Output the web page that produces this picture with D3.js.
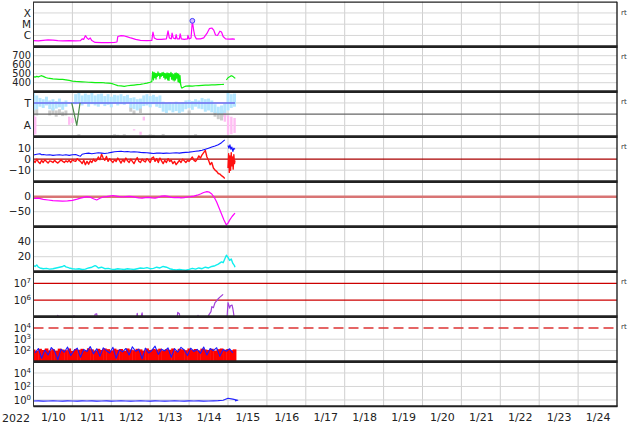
<!DOCTYPE html>
<html><head><meta charset="utf-8">
<script src="https://cdn.jsdelivr.net/npm/d3@7"></script>
<style>body{margin:0;background:#fff}svg text{font-family:"DejaVu Sans",sans-serif}</style>
</head><body><svg id="c" width="634" height="424"></svg>
<script>
// ---------- DATA (time in hours since 2022-01-10 00:00 UTC) ----------
const dayLabels = ["1/10","1/11","1/12","1/13","1/14","1/15","1/16","1/17","1/18","1/19","1/20","1/21","1/22","1/23","1/24"];
const yearLabel = "2022";

// Panel 1: X-ray flux
const xrayT = [0,3,6,9,12,15,18,22,26,29,30,31,32,33,34,35,36,38,42,46,50,51.5,52,54,56,58,60,63,66,70,73,73.7,74.5,76,79,82,83,83.8,85,85.5,86.2,87.5,88,88.6,90,90.5,91.2,93,95,95.3,96,97.2,98,98.8,99.5,100.5,103,105,107,108.5,110,111.2,112.3,113.5,115,116,117,118.5,121,123,124.3];
const xrayF = [3.5e-7,3.3e-7,3.6e-7,4.0e-7,3.8e-7,3.4e-7,3.3e-7,3.5e-7,3.3e-7,3.4e-7,5e-7,4.5e-7,9.5e-7,6e-7,4.5e-7,6e-7,3.5e-7,2.4e-7,2.3e-7,2.3e-7,2.4e-7,2.6e-7,8e-7,9.5e-7,9e-7,7.5e-7,6e-7,4.5e-7,3.7e-7,3.5e-7,3.6e-7,2.0e-6,6e-7,4.5e-7,4.5e-7,5e-7,2.6e-6,6e-7,5e-7,1.6e-6,6e-7,5e-7,1.2e-6,5e-7,5e-7,1.4e-6,5e-7,4.5e-7,5e-7,1.0e-6,5e-7,6e-7,2.0e-5,3e-6,9e-7,5e-7,5e-7,6e-7,1.5e-6,4e-6,4.6e-6,3e-6,1.1e-6,1.0e-6,2.4e-6,2e-6,8e-7,5e-7,4.8e-7,5e-7,4.6e-7];
const flareT = [98];
const flareF = [2.0e-5];
const xrayClasses = ["X","M","C"];
const xrayClassFlux = [1e-4,1e-5,1e-6];

// Panel 2: solar wind speed
const speedT = [0,1,2,3,4,5,6,7,8,9,10,11,12,14,16,18,20,22,24,26,28,30,32,34,36,38,40,42,44,46,48,50,52,54,56,58,60,62,64,66,68,70,72,73,
73.5,74,74.4,74.8,75.2,75.6,76,76.4,76.8,77.2,77.6,78,78.4,78.8,79.2,79.6,80,80.4,80.8,81.2,81.6,82,82.4,82.8,83.2,83.6,84,84.4,84.8,85.2,85.6,86,86.4,86.8,87.2,87.6,88,88.4,88.8,89.2,89.6,90,90.4,90.8,91.2,91.6,
92,93,94,96,98,100,102,104,106,108,110,112,114,116,117.5,118,119,120,121,122,123,124,124.5];
const speedV = [467,462,470,465,472,478,470,462,455,450,448,445,442,440,438,436,432,425,418,414,412,410,408,405,403,401,400,402,398,395,392,380,368,365,360,366,370,374,378,382,388,395,405,412,
520,430,515,455,505,440,500,470,520,480,505,445,500,470,510,480,515,460,505,440,500,450,510,430,505,425,500,470,515,440,500,430,490,420,505,430,510,450,500,410,495,400,480,380,350,340,
345,355,362,365,362,366,368,370,372,373,375,376,378,380,382,null,430,455,465,478,470,455,448];
const speedTicks = [700,600,500,400];

// Panel 3: IMF angle (light blue / grey / pink clouds, reference lines)
const phiBlueT  = [0,2,4,6,8,10,12,14,16,18,20,22,24,26,28,30,32,34,36,38,40,42,44,46,48,50,52,54,56,58,60,62,64,66,68,70,72,74,76,78,80,82,84,86,88,90,92,94,96,98,100,102,104,106,108,110,112,114,116,118,120,122,124];
const phiBlueLo = [10,30,50,60,40,70,60,75,55,80,70,85,85,20,10,30,15,25,10,30,20,15,35,20,40,25,30,20,35,25,50,45,60,55,30,20,35,25,40,30,80,90,85,95,80,90,85,70,65,75,60,70,50,60,55,70,100,120,110,95,10,20,15];
const phiBlueHi = [150,140,120,130,110,140,150,135,125,145,120,95,95,100,90,110,95,120,100,110,120,100,115,105,125,95,110,100,105,90,130,140,150,135,115,110,125,100,120,130,160,170,150,165,155,170,160,140,130,145,120,135,140,160,150,165,170,185,180,175,150,130,120];
const phiGrey = [[0,130,200],[2,140,190],[10,150,190],[12,130,180],[14,150,200],[16,140,185],[18,160,195],[20,150,190],[28,340,352],[50,340,350],[52,345,352],[56,340,350],[60,120,160],[62,150,180],[66,130,170],[72,340,350],[74,345,352],[80,338,350],[96,150,175],[100,340,350],[112,160,200],[114,170,220],[116,180,230],[118,150,200]];
const phiPink = [[0,190,350],[1,200,340],[22,200,265],[24,210,250],[62,300,310],[66,320,345],[68,200,230],[118,170,240],[120,190,345],[122,200,340],[124,210,330]];
const phiGreenT = [23.6,26.7,28.7];
const phiGreenV = [90,270,90];
const phiLabels = [["T",90],["A",270]];

// Panel 4: Bt and Bz (nT)
const btT = [0,2,4,5,6,8,10,12,14,16,18,20,22,24,26,28,29,30,32,34,36,38,40,42,44,46,48,50,52,54,56,58,60,62,64,66,68,70,72,74,76,78,80,82,84,86,88,90,92,94,96,98,100,102,104,106,108,110,112,114,116,118,119,120,120.6,121.2,121.8,122.4,123,123.6,124.3];
const btV = [3.8,4.5,5,4,4.2,3.8,4,3.5,3.8,4,3.6,4,3.5,4,4.3,3.2,2.8,4.5,5.2,5.5,5,5.4,5.8,5.5,5.2,5.6,6.2,6.8,7,7.2,6.8,7,6.6,6.8,6.5,6.2,6,5.8,5.5,5.2,5.5,5.6,5.3,5.5,5.4,5.6,5.8,5.5,6,6.2,6.4,6.8,7.2,7.6,8.2,9,10,11,12,13.2,15,17.5,null,12.5,10,13,9,11,7,10,9];
const bzT = [0,1,2,3,4,5,6,7,8,9,10,11,12,13,14,15,16,17,18,19,20,21,22,23,24,25,26,27,28,29,30,31,32,33,34,35,36,37,38,39,40,41,42,43,44,45,46,47,48,49,50,51,52,53,54,55,56,57,58,59,60,61,62,63,64,65,66,67,68,69,70,71,72,73,74,75,76,77,78,79,80,81,82,83,84,85,86,87,88,89,90,91,92,93,94,95,96,97,98,99,100,101,102,103,104,105,106,107,108,109,110,111,112,113,114,115,116,117,118,119,120,120.4,120.8,121.2,121.6,122,122.4,122.8,123.2,123.6,124,124.3];
const bzV = [-1,-3,0,-2.5,-4,-1,-3,-0.5,-2,-3.5,-1.5,-2,-3,-1,-2.5,-3.5,-2,-0.5,-2,-3,-1.5,-2.5,-1,-3,-0.5,-1.5,-2,0.5,-1,-2,-4,-1,-5,-2,-4.5,-1.5,-3,0,-2,-1,2,-0.5,4.5,1,-1,2.5,-2,0.5,-1.5,-3,-0.5,-2,1,-1,-3.5,-0.5,-2.5,1,-1.5,-3,0,-2,-4,-1,1.5,-2,-3,0,-1.5,-2.5,0.5,-1,-3,1,2,-2,0.5,-3,1,-1.5,-4,-1,-3,0.5,-2,-1,-4,-2,-5,-3,-1,-3,0,-1.5,-3,-1,-2,0,2,-1,-2,0,3,1,4,6,8,2,-1,-5,-3,-8,-10,-11,-13,-13.5,-15,-16,-17.5,null,-8,5,-12,3,-10,6,-6,2,-9,4,-4,-1];
const bTicks = [10,0,-10];

// Panel 5: Dst (nT)
const dstT = [0,3,6,9,12,15,18,21,24,27,29,31,33,35,37,39,41,43,45,47,49,51,53,55,57,59,61,63,65,67,69,71,73,75,77,79,81,83,85,87,89,91,93,95,97,99,101,103,105,107,108.5,110,111.5,113,114.5,116,117.5,119,120,121,122.5,124.3];
const dstV = [-6,-5,-9,-11,-13,-14,-15,-14,-12,-8,-5,-2,0,-2,-7,-11,-5,-1,0,2,4,2,0,-1,0,1,0,-2,-4,-5,-3,-2,-4,-5,-2,2,3,1,-2,-3,-2,-4,-3,-1,0,2,5,9,14,17,15,9,-2,-18,-38,-58,-78,-94,-88,-78,-66,-55];
const dstTicks = [0,-50];

// Panel 6: density
const denT = [0,1,2,3,4,6,8,10,12,14,16,18,19,20,22,24,26,28,30,32,34,36,38,39,40,42,44,46,48,50,52,54,56,58,60,62,64,66,68,70,72,74,76,78,80,82,84,86,88,90,92,94,96,98,100,102,104,106,108,110,112,114,116,117,118,119,120,121,122,123,124,124.3];
const denV = [8,7,9,6,5,4,4.5,3.5,4,5,6,7,8,6.5,5,4,3.5,4,3,3.5,5,6,8,7,5,6,4,4.5,3.5,3,4,3.5,3,4,3.5,3,4,5,4.5,5.5,4,4.5,6,5,7,6,4,3,2.5,3,2.5,2,3,4.5,3.5,5,4,6,5,7,8,10,13,12,17,22,19,15,17,11,8,6];
const denTicks = [40,20];

// Panel 7: electron flux (purple)
const eT = [0,14,15,16,24,25,26,37,38,39,40,63,64,65,67,68,88,89,90,91,101,101.5,102,107.5,108,109.5,110,111,112,113,114,115,116,117,118,118.5,119.5,120,120.5,121,121.5,122.5,123,123.5,124];
const eV = [3e4,3e4,1.2e5,3e4,3e4,1.15e5,3e4,3e4,1.4e5,1.5e5,3e4,3e4,1.6e5,3e4,1.7e5,3e4,3e4,1.8e5,1.5e5,3e4,3e4,1.2e5,3e4,3e4,1.2e5,2e5,4e5,3.5e5,7e5,9e5,1.2e6,1.5e6,1.8e6,2.2e6,null,3e4,1.2e5,6.9e5,5e5,3.3e5,4.5e5,5e5,3e5,1.5e5,5e4];
const eRefs = [1e7,1e6];
const eTicks = [7,6];

// Panel 8: proton flux (red bars, blue line)
const p8RedStart = 0, p8Step = 2;
const p8Red = [120,90,140,110,150,100,130,95,145,120,105,150,90,135,115,140,100,155,125,95,140,110,150,130,100,145,115,135,90,150,120,105,140,125,95,150,110,135,120,145,100,130,115,150,95,140,125,105,150,115,135,100,145,120,110,140,95,130,150,115,135,105,125];
const p8Blue = [60,150,20,110,40,180,90,15,130,70,200,35,100,160,25,120,80,220,50,140,30,170,95,60,190,20,115,75,150,40,210,85,130,18,160,60,100,240,45,130,90,170,25,145,70,190,110,35,160,80,125,55,200,40,150,95,175,30,120,85,140,60];
const p8Ref = 1e4;
const p8Ticks = [4,3,2];

// Panel 9: (blue line)
const p9Step = 3;
const p9V = [0.7,0.72,0.68,0.7,0.75,0.7,0.68,0.72,0.7,0.69,0.73,0.7,0.71,0.68,0.7,0.72,0.69,0.7,0.74,0.7,0.68,0.7,0.72,0.7,0.69,0.71,0.7,0.68,0.7,0.72,0.7,0.69,0.73,0.7,0.71,0.68,0.7,0.75,0.8,0.9,1.8,1.3,0.9];
const p9Ticks = [4,2,0];

// ---------- LAYOUT ----------
const svg = d3.select("#c");
const X0 = 33.5, X1 = 617;
const PH = 45, TOP = 1.7, NP = 9;
const PT = i => TOP + PH*i, PB = i => TOP + PH*(i+1);
const x = d3.scaleLinear().domain([0, 360]).range([X0, X1]);

const y1 = d3.scaleLog().domain([1e-7,1e-3]).range([PB(0),PT(0)]);
const y2 = d3.scaleLinear().domain([300,800]).range([PB(1),PT(1)]);
const y3 = d3.scaleLinear().domain([0,360]).range([PT(2),PB(2)]);
const y4 = d3.scaleLinear().domain([-20.45,20.45]).range([PB(3),PT(3)]);
const y5 = d3.scaleLinear().domain([-100,50]).range([PB(4),PT(4)]);
const y6 = d3.scaleLinear().domain([0,60]).range([PB(5),PT(5)]);
const y7 = d3.scaleLog().domain([1e5,Math.pow(10,7.7)]).range([PB(6),PT(6)]);
const y8 = d3.scaleLog().domain([10,1e5]).range([PB(7),PT(7)]);
const y9 = d3.scaleLog().domain([0.1,Math.pow(10,5.67)]).range([PB(8),PT(8)]);

const defs = svg.append("defs");
for (let i=0;i<NP;i++){
  defs.append("clipPath").attr("id","cp"+i).append("rect")
    .attr("x",X0).attr("y",PT(i)).attr("width",X1-X0).attr("height",PH);
}

// vertical day grid
const grid = svg.append("g");
for (let d=1; d<15; d++){
  grid.append("line").attr("x1",x(d*24)).attr("x2",x(d*24)).attr("y1",PT(0)).attr("y2",PB(8))
    .attr("stroke","#cfcfcf").attr("stroke-width",1);
}
function hgrid(yv, color="#d6d6d6", w=1, dash=null){
  const l = grid.append("line").attr("x1",X0).attr("x2",X1).attr("y1",yv).attr("y2",yv)
    .attr("stroke",color).attr("stroke-width",w);
  if (dash) l.attr("stroke-dasharray",dash);
}
xrayClassFlux.forEach(f=>hgrid(y1(f)));
speedTicks.forEach(v=>hgrid(y2(v)));
hgrid(y3(90)); hgrid(y3(270));
hgrid(y4(10)); hgrid(y4(-10));
hgrid(y5(-50));
denTicks.forEach(v=>hgrid(y6(v)));
hgrid(y8(1e3)); hgrid(y8(1e2));
p9Ticks.forEach(p=>hgrid(y9(Math.pow(10,p))));

const zip = (t,v)=>t.map((h,i)=>[h,v[i]]);
function drawLine(i, data, ys, color, w){
  svg.append("path").attr("clip-path",`url(#cp${i})`)
    .attr("d", d3.line().defined(d=>d[1]!=null).x(d=>x(d[0])).y(d=>ys(d[1]))(data))
    .attr("fill","none").attr("stroke",color).attr("stroke-width",w).attr("stroke-linejoin","round");
}

// Panel 1
drawLine(0, zip(xrayT,xrayF), y1, "#ff00ff", 1.2);
svg.append("g").selectAll("circle").data(zip(flareT,flareF)).join("circle")
  .attr("cx",d=>x(d[0])).attr("cy",d=>y1(d[1])).attr("r",2.4)
  .attr("fill","#d8b8ff").attr("stroke","#4040ff").attr("stroke-width",1);

// Panel 2
drawLine(1, zip(speedT,speedV), y2, "#11ee11", 1.2);

// Panel 3
const g3 = svg.append("g").attr("clip-path","url(#cp2)");
g3.selectAll(".gy").data(phiGrey).join("rect")
  .attr("x",d=>x(d[0])-1.5).attr("width",3).attr("y",d=>y3(d[1])).attr("height",d=>y3(d[2])-y3(d[1]))
  .attr("fill","#cccccc");
g3.selectAll(".lb").data(zip(phiBlueT, phiBlueLo.map((lo,i)=>[lo,phiBlueHi[i]]))).join("rect")
  .attr("x",d=>x(d[0])-1.5).attr("width",3).attr("y",d=>y3(d[1][0])).attr("height",d=>y3(d[1][1])-y3(d[1][0]))
  .attr("fill","#b4e6ff");
g3.selectAll(".pk").data(phiPink).join("rect")
  .attr("x",d=>x(d[0])-1.1).attr("width",2.4).attr("y",d=>y3(d[1])).attr("height",d=>y3(d[2])-y3(d[1]))
  .attr("fill","#ffbdf3");
g3.append("line").attr("x1",x(0)).attr("x2",x(124.3)).attr("y1",y3(90)).attr("y2",y3(90))
  .attr("stroke","#6a6af0").attr("stroke-width",1.4);
g3.append("line").attr("x1",X0).attr("x2",X1).attr("y1",y3(180)).attr("y2",y3(180))
  .attr("stroke","#666").attr("stroke-width",1.2);
drawLine(2, zip(phiGreenT,phiGreenV), y3, "#4a8a4a", 1.2);

// Panel 4
svg.append("line").attr("x1",X0).attr("x2",X1).attr("y1",y4(0)).attr("y2",y4(0)).attr("stroke","#aa0000").attr("stroke-width",1.3);
drawLine(3, zip(bzT,bzV), y4, "#ff1010", 1.4);
drawLine(3, zip(btT,btV), y4, "#1010ff", 1.1);

// Panel 5
svg.append("line").attr("x1",X0).attr("x2",X1).attr("y1",y5(0)).attr("y2",y5(0)).attr("stroke","#d87474").attr("stroke-width",2.4);
drawLine(4, zip(dstT,dstV), y5, "#ff00ff", 1.2);

// Panel 6
drawLine(5, zip(denT,denV), y6, "#11eeee", 1.4);

// Panel 7
eRefs.forEach(v=>svg.append("line").attr("x1",X0).attr("x2",X1).attr("y1",y7(v)).attr("y2",y7(v)).attr("stroke","#cc0000").attr("stroke-width",1.2));
drawLine(6, zip(eT,eV), y7, "#a040d8", 1.2);

// Panel 8
svg.append("line").attr("x1",X0).attr("x2",X1).attr("y1",y8(p8Ref)).attr("y2",y8(p8Ref))
  .attr("stroke","#dd3333").attr("stroke-width",1.5).attr("stroke-dasharray","10,5");
svg.append("g").attr("clip-path","url(#cp7)").selectAll("rect").data(p8Red).join("rect")
  .attr("x",(d,i)=>x(p8RedStart+i*p8Step)-1.7).attr("width",x(p8Step)-x(0)+0.4)
  .attr("y",d=>y8(d)).attr("height",d=>PB(7)-y8(d)).attr("fill","#ff0000");
drawLine(7, p8Blue.map((v,i)=>[1+i*p8Step, v]), y8, "#1a1aff", 1.1);

// Panel 9
drawLine(8, p9V.map((v,i)=>[i*p9Step, v]).concat([[124.3,0.75]]), y9, "#2222ff", 1.2);

// ---------- frames ----------
const fr = svg.append("g");
fr.append("line").attr("x1",X0).attr("x2",X1).attr("y1",PT(0)+0.5).attr("y2",PT(0)+0.5).attr("stroke","#222").attr("stroke-width",1.2);
for (let i=1;i<NP;i++){
  fr.append("line").attr("x1",X0).attr("x2",X1+0.5).attr("y1",PT(i)).attr("y2",PT(i)).attr("stroke","#222").attr("stroke-width",2.8);
}
fr.append("line").attr("x1",X0).attr("x2",X1+0.5).attr("y1",PB(8)-0.5).attr("y2",PB(8)-0.5).attr("stroke","#222").attr("stroke-width",2);
fr.append("line").attr("x1",X0).attr("x2",X0).attr("y1",PT(0)).attr("y2",PB(8)).attr("stroke","#333").attr("stroke-width",1);
fr.append("line").attr("x1",X1).attr("x2",X1).attr("y1",PT(0)).attr("y2",PB(8)).attr("stroke","#222").attr("stroke-width",1.4);

// ---------- labels ----------
const LX = 31;
const lab = svg.append("g").attr("fill","#222").attr("font-size",10.5).attr("text-anchor","end");
function ylab(txt, yv, fs){ const t = lab.append("text").attr("x",LX).attr("y",yv).attr("dy","0.36em").text(txt); if (fs) t.attr("font-size",fs); }
function plab(p, yv){
  const t = lab.append("text").attr("x",LX).attr("y",yv).attr("dy","0.36em").attr("font-size",10);
  t.append("tspan").text("10");
  t.append("tspan").attr("dy","-0.5em").attr("font-size",7).text(p);
}
xrayClasses.forEach((c,i)=>ylab(c, y1(xrayClassFlux[i])));
speedTicks.forEach(v=>ylab(String(v), y2(v), 9.8));
phiLabels.forEach(d=>ylab(d[0], y3(d[1])));
bTicks.forEach(v=>ylab(v<0?"\u2212"+(-v):String(v), y4(v)));
dstTicks.forEach(v=>ylab(v<0?"\u2212"+(-v):String(v), y5(v)));
denTicks.forEach(v=>ylab(String(v), y6(v)));
eTicks.forEach(p=>plab(String(p), y7(Math.pow(10,p))));
p8Ticks.forEach(p=>plab(String(p), y8(Math.pow(10,p))));
p9Ticks.forEach(p=>plab(String(p), y9(Math.pow(10,p))));

// right-side "rt" markers
const rtY = [PT(0)+10.5, PT(1)+10, PT(2)+10, PT(3)+10, PT(6)+10, PT(7)+10];
svg.append("g").selectAll("text").data(rtY).join("text")
  .attr("x",621).attr("y",d=>d).attr("dy","0.35em").attr("font-size",7).attr("fill","#333").text("rt");

// x axis
const xa = d3.axisBottom(x).tickValues(dayLabels.map((d,i)=>12+24*i))
  .tickFormat((d,i)=>dayLabels[i]).tickSize(0).tickPadding(7);
const gx = svg.append("g").attr("transform",`translate(0,${PB(8)})`).call(xa);
gx.select(".domain").remove();
gx.selectAll("text").attr("font-size",11).attr("fill","#222").attr("font-family","DejaVu Sans");
svg.append("text").attr("x",16).attr("y",PB(8)+7).attr("dy","0.71em").attr("text-anchor","middle")
  .attr("font-size",11).attr("fill","#222").text(yearLabel);
</script></body></html>
